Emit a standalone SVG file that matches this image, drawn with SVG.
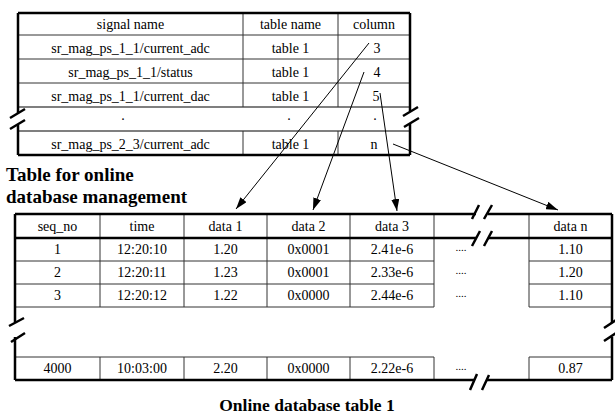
<svg xmlns="http://www.w3.org/2000/svg" width="615" height="418" viewBox="0 0 615 418" font-family="'Liberation Serif', 'Times New Roman', 'DejaVu Serif', serif">
<style>
text{font-family:'Liberation Serif','Times New Roman','DejaVu Serif',serif;font-size:14px;fill:#000;text-anchor:middle}
.h{font-weight:bold;font-size:19px;text-anchor:start}
.t{font-weight:bold;font-size:17.5px}
.thick{stroke:#000;stroke-width:2.5;fill:none}
.thin{stroke:#333;stroke-width:1;fill:none}
.mid{stroke:#555;stroke-width:1.5;fill:none}
.brk{stroke:#000;stroke-width:2.5;fill:none}
.arr{stroke:#000;stroke-width:1;fill:none;marker-end:url(#ah)}
.d{font-size:11px}
</style>
<defs>
<marker id="ah" viewBox="0 0 12 8" refX="12" refY="4" markerWidth="12" markerHeight="8" markerUnits="userSpaceOnUse" orient="auto">
<path d="M0,0 L12,4 L0,8 z" fill="#000"/>
</marker>
</defs>
<rect width="615" height="418" fill="#fff"/>

<g id="mapping-table">
<path class="thin" d="M18,35H410M18,59H410M18,83H410"/>
<path class="mid" d="M18,107H410M18,131H410"/>
<path class="thin" d="M243,13V107M338,13V107M243,131V155M338,131V155"/>
<path class="thick" d="M18,13H410M18,155H410M18,13V113M18,125V155M410,13V111M410,124V155"/>
<path class="brk" d="M10,118L25,109M10,129L25,120M403,116L418,107M404,127L419,118"/>
<text x="130.5" y="29">signal name</text>
<text x="290.5" y="29">table name</text>
<text x="374" y="29">column</text>
<text x="130.5" y="53">sr_mag_ps_1_1/current_adc</text>
<text x="290.5" y="53">table 1</text>
<text x="377" y="53">3</text>
<text x="130.5" y="77">sr_mag_ps_1_1/status</text>
<text x="290.5" y="77">table 1</text>
<text x="377" y="77">4</text>
<text x="130.5" y="101">sr_mag_ps_1_1/current_dac</text>
<text x="290.5" y="101">table 1</text>
<text x="376" y="101">5</text>
<text x="123" y="120">.</text>
<text x="289" y="120">.</text>
<text x="375" y="120">.</text>
<text x="130.5" y="149">sr_mag_ps_2_3/current_adc</text>
<text x="290.5" y="149">table 1</text>
<text x="374" y="149">n</text>
</g>

<g id="heading">
<text class="h" x="6" y="181">Table for online</text>
<text class="h" x="6" y="203">database management</text>
</g>

<g id="online-table">
<path class="thin" d="M15,261H434M529,261H612M15,284H434M529,284H612M15,307H434M529,307H612M15,357H434M529,357H612"/>
<path class="thin" d="M100,214V307M184,214V307M267,214V307M350,214V307M434,214V307M529,214V307M100,357V380M184,357V380M267,357V380M350,357V380M434,357V380M529,357V380"/>
<path class="thick" d="M15,214H476M488,214H612M15,238H476M488,238H612M15,380H475M487,380H612M15,214V322M15,337V380M612,214V323M612,337V380"/>
<path class="brk" d="M472,219L479,205M484,219L492,205M472,246L480,231M484,246L492,231M470,390L477,374M482,390L489,375M9,326L24,318M11,342L25,333M604,328L616,320M604,341L616,333"/>
<text x="57.5" y="231">seq_no</text>
<text x="142" y="231">time</text>
<text x="225.5" y="231">data 1</text>
<text x="308.5" y="231">data 2</text>
<text x="392" y="231">data 3</text>
<text x="570.5" y="231">data n</text>
<text x="57.5" y="254">1</text>
<text x="142" y="254">12:20:10</text>
<text x="225.5" y="254">1.20</text>
<text x="308.5" y="254">0x0001</text>
<text x="392" y="254">2.41e-6</text>
<text class="d" x="461" y="251">....</text>
<text x="570.5" y="254">1.10</text>
<text x="57.5" y="277">2</text>
<text x="142" y="277">12:20:11</text>
<text x="225.5" y="277">1.23</text>
<text x="308.5" y="277">0x0001</text>
<text x="392" y="277">2.33e-6</text>
<text class="d" x="461" y="274">....</text>
<text x="570.5" y="277">1.20</text>
<text x="57.5" y="300">3</text>
<text x="142" y="300">12:20:12</text>
<text x="225.5" y="300">1.22</text>
<text x="308.5" y="300">0x0000</text>
<text x="392" y="300">2.44e-6</text>
<text class="d" x="461" y="297">....</text>
<text x="570.5" y="300">1.10</text>
<text x="57.5" y="373">4000</text>
<text x="142" y="373">10:03:00</text>
<text x="225.5" y="373">2.20</text>
<text x="308.5" y="373">0x0000</text>
<text x="392" y="373">2.22e-6</text>
<text class="d" x="461" y="370">....</text>
<text x="570.5" y="373">0.87</text>
</g>

<g id="caption">
<text class="t" x="307" y="411">Online database table 1</text>
</g>

<g id="connectors">
<line class="arr" x1="369" y1="43" x2="236" y2="209"/>
<line class="arr" x1="364" y1="72" x2="313" y2="210"/>
<line class="arr" x1="380" y1="93" x2="397" y2="211"/>
<line class="arr" x1="393" y1="144" x2="558" y2="210"/>
</g>
</svg>
